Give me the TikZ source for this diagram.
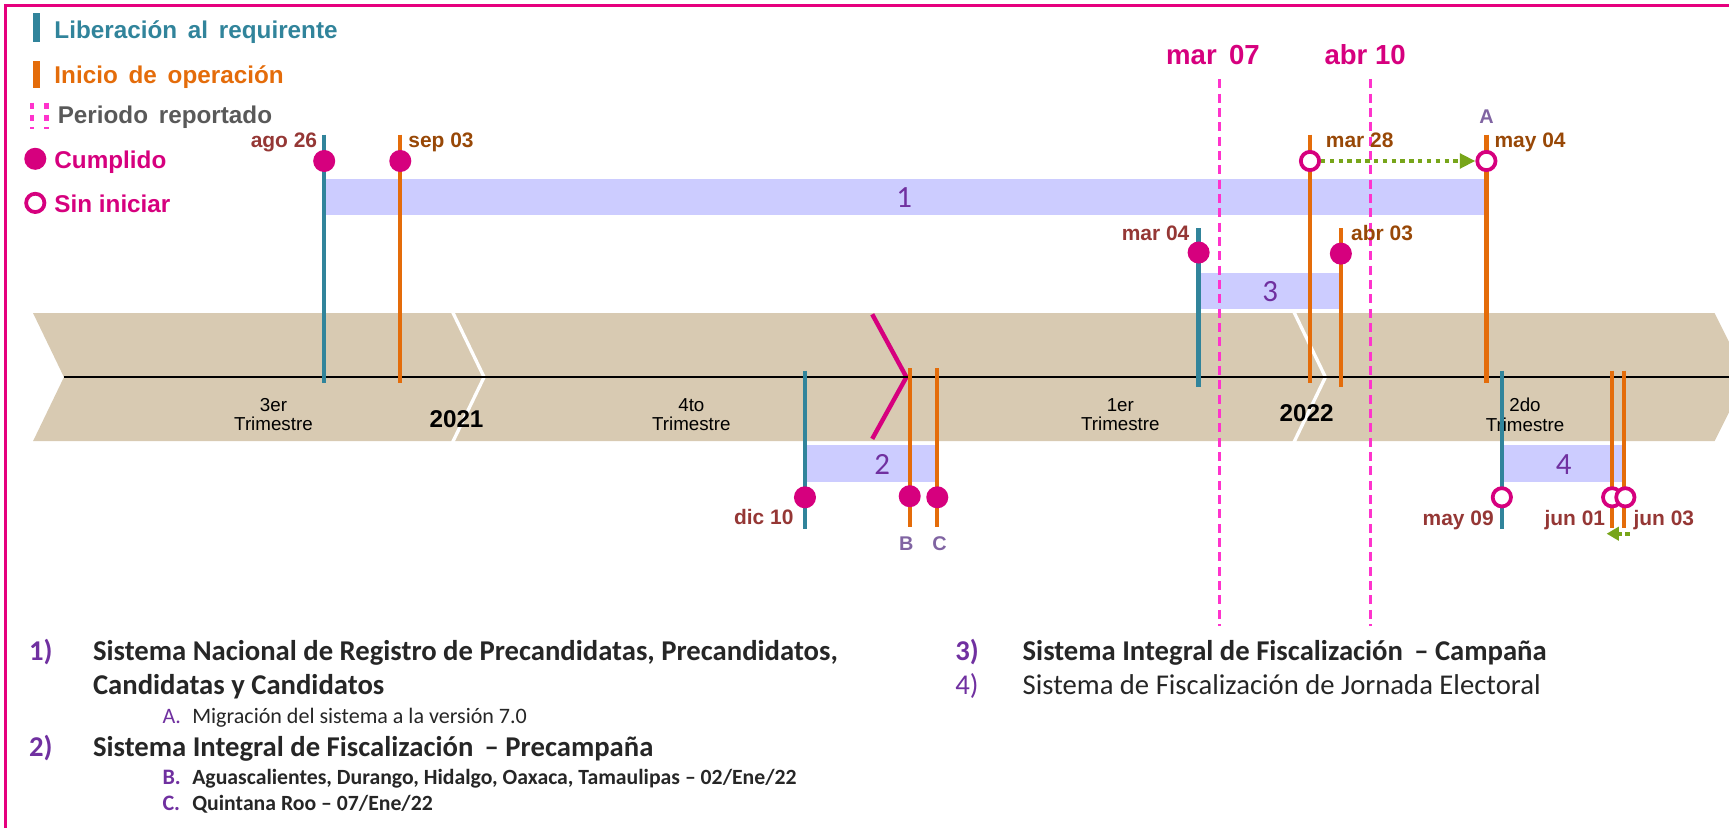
\documentclass[tikz,border=0pt]{standalone}
\usepackage{fontspec}
\setmainfont{Liberation Sans}
\newfontfamily\calfam{Carlito}
\usetikzlibrary{arrows.meta}
\definecolor{tealc}{HTML}{31849B}
\definecolor{orng}{HTML}{E46C0A}
\definecolor{mag}{HTML}{D6007E}
\definecolor{pinkd}{HTML}{FF33CC}
\definecolor{tanc}{HTML}{D8CAB2}
\definecolor{lav}{HTML}{CCCCFF}
\definecolor{purp}{HTML}{7030A0}
\definecolor{purpl}{HTML}{8064A2}
\definecolor{dred}{HTML}{953735}
\definecolor{brwn}{HTML}{984807}
\definecolor{grn}{HTML}{77A51A}
\definecolor{gry}{HTML}{595959}
\definecolor{txtc}{HTML}{262626}
\definecolor{bordc}{HTML}{E6007E}
\begin{document}
\begin{tikzpicture}[x=0.5pt,y=-0.5pt,
  libline/.style={tealc, line width=2pt},
  iniline/.style={orng, line width=2pt},
  done/.style={circle, fill=mag, inner sep=0pt, minimum size=10pt},
  todo/.style={circle, draw=mag, line width=1.7pt, fill=white, inner sep=0pt, minimum size=8.3pt},
  barbox/.style={fill=lav},
  dlab/.style={font=\fontsize{9.5}{10}\selectfont\bfseries, inner sep=0pt},
  leg/.style={font=\fontsize{11}{12}\selectfont\bfseries, inner sep=0pt, anchor=base west},
  barlab/.style={font=\calfam\fontsize{14}{14}\selectfont, text=purp, inner sep=0pt},
  letlab/.style={font=\fontsize{9}{10}\selectfont\bfseries, text=purpl, inner sep=0pt},
  trim/.style={font=\fontsize{8.5}{9}\selectfont, align=center, inner sep=0pt},
  yearlab/.style={font=\fontsize{11}{12}\selectfont\bfseries, inner sep=0pt},
  perlab/.style={font=\fontsize{12.5}{13}\selectfont\bfseries, text=mag, inner sep=0pt},
  perline/.style={pinkd, line width=1.2pt, dash pattern=on 4pt off 2.5pt},
  sep/.style={white, line width=1.5pt},
  garrow/.style={grn, line width=2pt, dash pattern=on 2pt off 2pt, -{Triangle[length=7pt,width=6.5pt]}},
  numb/.style={font=\calfam\fontsize{13}{14}\selectfont\bfseries, text=purp, inner sep=0pt, anchor=base west},
  numr/.style={font=\calfam\fontsize{13}{14}\selectfont, text=purp, inner sep=0pt, anchor=base west},
  itb/.style={font=\calfam\fontsize{13}{14}\selectfont\bfseries, text=txtc, inner sep=0pt, anchor=base west},
  itr/.style={font=\calfam\fontsize{13}{14}\selectfont, text=txtc, inner sep=0pt, anchor=base west},
  subl/.style={font=\calfam\fontsize{10}{11}\selectfont, text=purp, inner sep=0pt, anchor=base west},
  subb/.style={font=\calfam\fontsize{10}{11}\selectfont\bfseries, text=purp, inner sep=0pt, anchor=base west},
  sitr/.style={font=\calfam\fontsize{10}{11}\selectfont, text=txtc, inner sep=0pt, anchor=base west},
  sitb/.style={font=\calfam\fontsize{9.85}{11}\selectfont\bfseries, text=txtc, inner sep=0pt, anchor=base west}
]
\useasboundingbox (0,0) rectangle (1568,750);
\clip (0,0) rectangle (1568,750);
% border
\draw[bordc, line width=1pt] (5,760) -- (5,5) -- (1580,5);

% legend
\fill[tealc] (30,12) rectangle (36,38);
\node[leg, text=tealc] (lg1) at (49,35) {Liberación\, al\, requirente};
\fill[orng] (30,55) rectangle (36,80);
\node[leg, text=orng] (lg2) at (49,76) {Inicio\, de\, operación};
\draw[pinkd, line width=2pt, dash pattern=on 3pt off 2.5pt] (29,93) -- (29,117);
\draw[pinkd, line width=2pt, dash pattern=on 3pt off 2.5pt] (42,93) -- (42,117);
\node[leg, text=gry] (lg3) at (52,112) {Periodo\, reportado};
\node[done] (lgc1) at (32,144) {};
\node[leg, text=mag] (lg4) at (49,153) {Cumplido};
\node[todo] (lgc2) at (32,184) {};
\node[leg, text=mag] (lg5) at (49,193) {Sin iniciar};

% timeline band
\fill[tanc] (30,284) -- (1555,284) -- (1584,342) -- (1555,400) -- (30,400) -- (58,342) -- cycle;
\draw[sep] (410,282) -- (439,342) -- (410,402);
\draw[sep] (1173,282) -- (1202,342) -- (1173,402);
\draw[mag, line width=2pt] (791,285) -- (822,342) -- (791,398);
\draw[black, line width=1.2pt] (58,342) -- (1568,342);
\node[trim] (t3) at (248,376) {3er\\Trimestre};
\node[trim] (t4) at (627,376) {4to\\Trimestre};
\node[trim] (t1) at (1016,376) {1er\\Trimestre};
\node[trim] (t2) at (1383,376) {2do\\Trimestre};
\node[yearlab] (y21) at (414,380) {2021};
\node[yearlab] (y22) at (1185,375) {2022};

% bars
\fill[barbox] (294,162) rectangle (1348,195);
\fill[barbox] (1087,248) rectangle (1216,280);
\fill[barbox] (730,404) rectangle (850,437);
\fill[barbox] (1362,404) rectangle (1473,437);
\node[barlab] (b1) at (820,179) {1};
\node[barlab] (b3) at (1152,264) {3};
\node[barlab] (b2) at (800,421) {2};
\node[barlab] (b4) at (1418,421) {4};

% period lines
\coordinate (p1t) at (1106,72); \coordinate (p1b) at (1106,568);
\coordinate (p2t) at (1243,72); \coordinate (p2b) at (1243,568);
\draw[perline] (p1t) -- (p1b);
\draw[perline] (p2t) -- (p2b);
\node[perlab] (pl1) at (1100,50) {mar\, 07};
\node[perlab] (pl2) at (1238,50) {abr 10};

% milestone lines
\coordinate (agoT) at (294,122); \coordinate (agoB) at (294,347);
\coordinate (sepT) at (363,122); \coordinate (sepB) at (363,347);
\coordinate (m28T) at (1188,122); \coordinate (m28B) at (1188,347);
\coordinate (m04T) at (1348,122); \coordinate (m04B) at (1348,347);
\coordinate (mr4T) at (1087,207); \coordinate (mr4B) at (1087,351);
\coordinate (ab3T) at (1216,207); \coordinate (ab3B) at (1216,351);
\coordinate (dicT) at (730,336); \coordinate (dicB) at (730,480);
\coordinate (bT) at (825,334); \coordinate (bB) at (825,478);
\coordinate (cT) at (850,334); \coordinate (cB) at (850,478);
\coordinate (my9T) at (1362,336); \coordinate (my9B) at (1362,480);
\coordinate (j1T) at (1462,336); \coordinate (j1B) at (1462,479);
\coordinate (j3T) at (1473,336); \coordinate (j3B) at (1473,479);
\draw[libline] (agoT) -- (agoB);
\draw[iniline] (sepT) -- (sepB);
\draw[iniline] (m28T) -- (m28B);
\draw[iniline] (m04T) -- (m04B);
\draw[libline] (mr4T) -- (mr4B);
\draw[iniline] (ab3T) -- (ab3B);
\draw[libline] (dicT) -- (dicB);
\draw[iniline] (bT) -- (bB);
\draw[iniline] (cT) -- (cB);
\draw[libline] (my9T) -- (my9B);
\draw[iniline] (j1T) -- (j1B);
\draw[iniline] (j3T) -- (j3B);

% markers
\node[done] (ago) at (294,146) {};
\node[done] (sep) at (363,146) {};
\node[todo] (m28) at (1188,146) {};
\node[todo] (m04) at (1348,146) {};
\node[done] (mr4) at (1087,229) {};
\node[done] (ab3) at (1216,230) {};
\node[done] (dic) at (730,451) {};
\node[done] (mB) at (825,450) {};
\node[done] (mC) at (850,451) {};
\node[todo] (my9) at (1362,451) {};
\node[todo] (j1) at (1462,451) {};
\node[todo] (j3) at (1474,451) {};

% green arrows
\draw[garrow] (m28) -- (m04);
\coordinate (ga1) at (1478,484); \coordinate (ga2) at (1457,484);
\draw[grn, line width=2pt, dash pattern=on 2pt off 1.5pt, -{Triangle[length=5.5pt,width=6pt]}] (ga1) -- (ga2);

% date labels
\node[dlab, text=dred, anchor=base east] (lago) at (288,134) {ago 26};
\node[dlab, text=brwn, anchor=base west] (lsep) at (370,134) {sep 03};
\node[dlab, text=brwn, anchor=base west] (lm28) at (1202,134) {mar 28};
\node[dlab, text=brwn, anchor=base west] (lm04) at (1355,134) {may 04};
\node[letlab] (lA) at (1348,106) {A};
\node[dlab, text=dred, anchor=base east] (lmr4) at (1079,218) {mar 04};
\node[dlab, text=brwn, anchor=base west] (lab3) at (1225,218) {abr 03};
\node[dlab, text=dred, anchor=base east] (ldic) at (720,476) {dic 10};
\node[letlab] (lB) at (822,493) {B};
\node[letlab] (lC) at (852,493) {C};
\node[dlab, text=dred, anchor=base east] (lmy9) at (1355,477) {may 09};
\node[dlab, text=dred, anchor=base east] (lj1) at (1456,477) {jun 01};
\node[dlab, text=dred, anchor=base west] (lj3) at (1481,477) {jun 03};

% bottom list
\node[numb] (n1) at (26,599) {1)};
\node[itb] (i1a) at (84,599) {Sistema Nacional de Registro de Precandidatas, Precandidatos,};
\node[itb] (i1b) at (84,630) {Candidatas y Candidatos};
\node[subl] (sA) at (147,656) {A.};
\node[sitr] (tA) at (174,656) {Migración del sistema a la versión 7.0};
\node[numb] (n2) at (26,686) {2)};
\node[itb] (i2) at (84,686) {Sistema Integral de Fiscalización \,– Precampaña};
\node[subb] (sB) at (147,711) {B.};
\node[sitb] (tB) at (174,711) {Aguascalientes, Durango, Hidalgo, Oaxaca, Tamaulipas – 02/Ene/22};
\node[subb] (sC) at (147,735) {C.};
\node[sitb] (tC) at (174,735) {Quintana Roo – 07/Ene/22};
\node[numb] (n3) at (866,599) {3)};
\node[itb] (i3) at (927,599) {Sistema Integral de Fiscalización \,– Campaña};
\node[numr] (n4) at (866,630) {4)};
\node[itr] (i4) at (927,630) {Sistema de Fiscalización de Jornada Electoral};
\end{tikzpicture}
\end{document}
